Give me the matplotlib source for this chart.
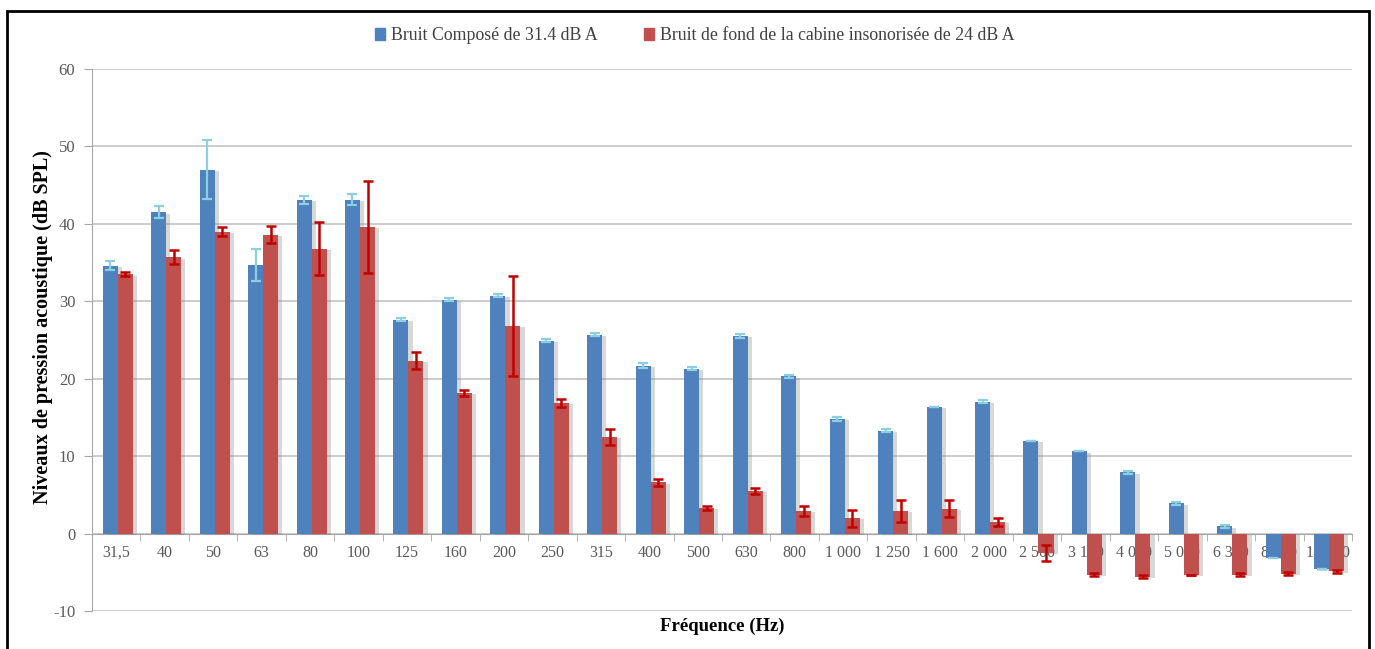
import matplotlib
matplotlib.use('Agg')
import matplotlib.pyplot as plt
import matplotlib.patheffects as pe
from matplotlib.patches import Rectangle
import numpy as np

plt.rcParams['font.family'] = ['Liberation Serif', 'DejaVu Serif']
plt.rcParams['axes.unicode_minus'] = False

# Data
freqs = ['31,5', '40', '50', '63', '80', '100', '125', '160', '200', '250', '315',
         '400', '500', '630', '800', '1 000', '1 250', '1 600', '2 000', '2 500',
         '3 150', '4 000', '5 000', '6 300', '8 000', '10 000']

compose = [34.6, 41.5, 47.0, 34.7, 43.1, 43.1, 27.6, 30.2, 30.7, 24.9, 25.7,
           21.7, 21.3, 25.5, 20.3, 14.8, 13.3, 16.4, 17.0, 12.0, 10.6, 7.9,
           3.9, 0.95, -3.1, -4.6]
compose_err = [0.6, 0.8, 3.8, 2.1, 0.5, 0.7, 0.2, 0.2, 0.2, 0.2, 0.2,
               0.3, 0.2, 0.3, 0.2, 0.2, 0.2, 0.0, 0.2, 0.0, 0.0, 0.2,
               0.2, 0.2, 0.0, 0.0]

fond = [33.5, 35.7, 39.0, 38.6, 36.8, 39.6, 22.3, 18.2, 26.8, 16.9, 12.5,
        6.6, 3.3, 5.5, 2.9, 2.0, 2.9, 3.2, 1.5, -2.5, -5.3, -5.6,
        -5.3, -5.3, -5.2, -4.9]
fond_err = [0.3, 0.9, 0.6, 1.1, 3.4, 5.9, 1.1, 0.4, 6.4, 0.5, 1.0,
            0.5, 0.25, 0.4, 0.6, 1.1, 1.45, 1.1, 0.5, 1.0, 0.2, 0.2,
            0.0, 0.2, 0.2, 0.2]

labels = ['Bruit Composé de 31.4 dB A',
          'Bruit de fond de la cabine insonorisée de 24 dB A']

blue = '#4F81BD'
red = '#C0504D'
blue_err = '#8DCFE2'
red_err = '#C00000'

fig = plt.figure(figsize=(13.75, 6.49), dpi=100)
ax = fig.add_axes([0.0669, 0.0586, 0.9164, 0.8351])

x = np.arange(len(freqs))
w = 0.31
shadow = [pe.SimplePatchShadow(offset=(3, -1), shadow_rgbFace='#808080', alpha=0.3), pe.Normal()]

b1 = ax.bar(x - w / 2 + 0.03, compose, w, color=blue, zorder=3, label=labels[0])
b2 = ax.bar(x + w / 2 + 0.03, fond, w, color=red, zorder=3, label=labels[1])
for bar in list(b1) + list(b2):
    bar.set_path_effects(shadow)

ax.errorbar(x - w / 2 + 0.03, compose, yerr=compose_err, fmt='none',
            ecolor=blue_err, elinewidth=1.6, capsize=3.5, capthick=1.6, zorder=4)
ax.errorbar(x + w / 2 + 0.03, fond, yerr=fond_err, fmt='none',
            ecolor=red_err, elinewidth=1.8, capsize=3.5, capthick=1.8, zorder=4)

ax.set_xlim(-0.5, len(freqs) - 0.5)
ax.set_ylim(-10, 60)
ax.set_yticks(range(-10, 61, 10))
ax.yaxis.grid(True, color='#BFBFBF', linewidth=1.1, zorder=0)
ax.set_axisbelow(True)

ax.set_xticks(x)
ax.set_xticklabels(freqs)
ax.set_xticks(np.arange(-0.5, len(freqs), 1), minor=True)
ax.tick_params(axis='x', which='major', length=0, pad=8, labelsize=11.5, labelcolor='#595959')
ax.tick_params(axis='x', which='minor', length=5, color='#A6A6A6', direction='out')
ax.tick_params(axis='y', length=6, color='#A6A6A6', labelsize=12, labelcolor='#595959', pad=6)

ax.spines['bottom'].set_position(('data', 0))
ax.spines['bottom'].set_color('#A6A6A6')
ax.spines['left'].set_color('#A6A6A6')
ax.spines['top'].set_visible(False)
ax.spines['right'].set_visible(False)

ax.set_ylabel('Niveaux de pression acoustique (dB SPL)', fontsize=14.5, fontweight='bold')
ax.yaxis.set_label_coords(-0.031, 0.524)
fig.text(0.525, 0.035, 'Fréquence (Hz)', ha='center', va='center', fontsize=13.5, fontweight='bold')

handles = [Rectangle((0, 0), 1, 1, color=blue), Rectangle((0, 0), 1, 1, color=red)]
leg = fig.legend(handles, labels, loc='center', bbox_to_anchor=(0.505, 0.945), ncol=2,
                 frameon=False, handlelength=0.6, handleheight=0.6, handletextpad=0.3,
                 columnspacing=2.6, fontsize=12.8)
for t in leg.get_texts():
    t.set_color('#404040')

# outer frame
fig.patches.append(Rectangle((7 / 1375, -0.05), 1362 / 1375, 1.05 - 11 / 649,
                             transform=fig.transFigure, fill=False,
                             edgecolor='black', linewidth=2, zorder=0))

fig.savefig('out.png', dpi=100)
